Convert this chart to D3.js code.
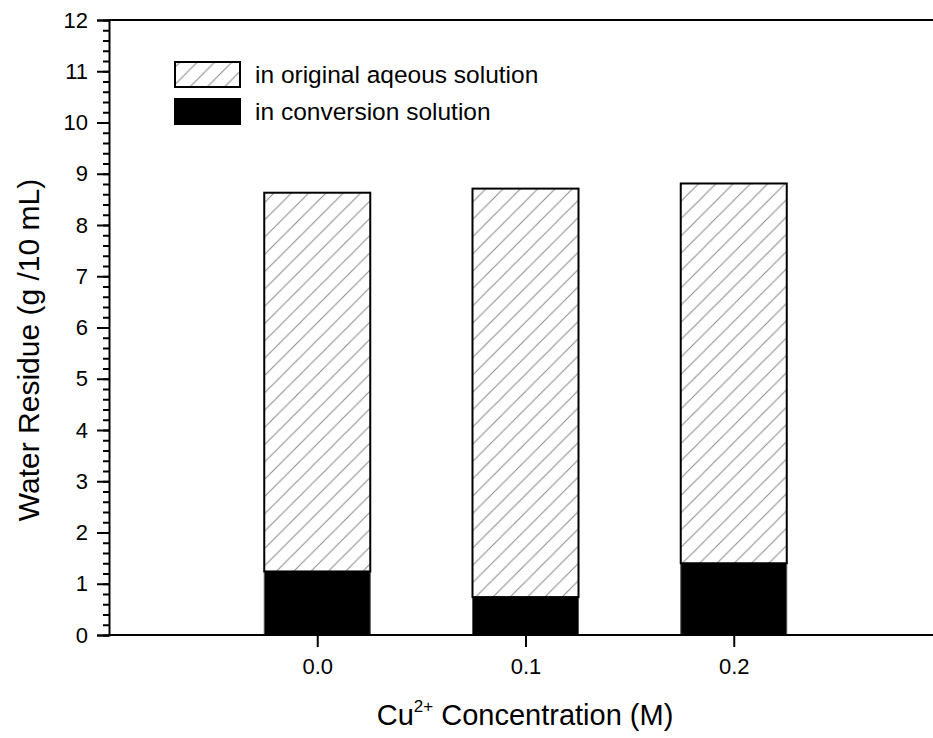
<!DOCTYPE html>
<html>
<head>
<meta charset="utf-8">
<script src="https://cdn.jsdelivr.net/npm/d3@7"></script>
<style>
  body { margin: 0; background: #fff; }
  svg { display: block; font-family: "Liberation Sans", Arial, sans-serif; }
</style>
</head>
<body>
<div id="chart"></div>
<script>
// Cu2+ concentration (M)
const concentrations = [0.0, 0.1, 0.2]
// water residue in conversion solution (black, bottom)
const conversionVals = [1.24, 0.74, 1.40]
// water residue in original aqueous solution (hatched, on top)
const originalVals = [7.39, 7.97, 7.41]
const xTickLabels = ["0.0", "0.1", "0.2"]
const yTicks = [0, 1, 2, 3, 4, 5, 6, 7, 8, 9, 10, 11, 12]
const legendLabels = ["in original aqeous solution", "in conversion solution"]

const width = 933
const height = 738
const margin = { left: 109, right: -9, top: 20, bottom: 103 }

const rows = concentrations.map((c, i) => ({ c, conv: conversionVals[i], orig: originalVals[i] }))
const stack = d3.stack().keys(["conv", "orig"])(rows)

const x = d3.scaleLinear().domain([-0.1, 0.3]).range([margin.left, width - margin.right])
const y = d3.scaleLinear().domain([0, 12]).range([height - margin.bottom, margin.top])
const barW = 106

const svg = d3.select("#chart").append("svg")
  .attr("width", width)
  .attr("height", height)

// hatch pattern
const defs = svg.append("defs")
const pat = defs.append("pattern")
  .attr("id", "hatch")
  .attr("patternUnits", "userSpaceOnUse")
  .attr("width", 17.3)
  .attr("height", 17.3)
pat.append("rect").attr("width", 17.3).attr("height", 17.3).attr("fill", "#fff")
pat.append("path")
  .attr("d", "M0,17.3 L17.3,0 M-4,4 L4,-4 M13.3,21.3 L21.3,13.3")
  .attr("stroke", "#8a8a8a")
  .attr("stroke-width", 1)

const fills = ["#000", "url(#hatch)"]
const strokes = ["#555", "#000"]

// bars
stack.forEach((layer, k) => {
  svg.append("g")
    .selectAll("rect")
    .data(layer)
    .join("rect")
    .attr("x", d => x(d.data.c) - barW / 2)
    .attr("width", barW)
    .attr("y", d => y(d[1]))
    .attr("height", d => y(d[0]) - y(d[1]))
    .attr("fill", fills[k])
    .attr("stroke", strokes[k])
    .attr("stroke-width", k === 1 ? 2 : 1)
})

// frame (top + right, right is outside the view)
svg.append("path")
  .attr("d", `M${x(-0.1)},${y(12)}H${x(0.3)}V${y(0)}`)
  .attr("fill", "none")
  .attr("stroke", "#000")
  .attr("stroke-width", 2)

// y axis, major and minor ticks
const yMinor = d3.range(0, 12.001, 0.2)
svg.append("g")
  .attr("transform", `translate(${margin.left},0)`)
  .call(d3.axisLeft(y).tickValues(yMinor).tickSize(6).tickFormat(""))
  .call(g => g.select(".domain").remove())
  .call(g => g.selectAll("line").attr("stroke-width", 2))
svg.append("g")
  .attr("transform", `translate(${margin.left},0)`)
  .call(d3.axisLeft(y).tickValues(yTicks).tickSize(12).tickPadding(9).tickFormat(d3.format("d")))
  .call(g => g.select(".domain").attr("stroke-width", 2))
  .call(g => g.selectAll("line").attr("stroke-width", 2))
  .call(g => g.selectAll("text").attr("font-size", 22).attr("fill", "#000").attr("font-family", "Liberation Sans, Arial, sans-serif"))

// x axis
svg.append("g")
  .attr("transform", `translate(0,${y(0)})`)
  .call(d3.axisBottom(x).tickValues(concentrations).tickSize(12).tickPadding(11).tickFormat((d, i) => xTickLabels[i]))
  .call(g => g.select(".domain").attr("stroke-width", 2).attr("d", `M${x(-0.1)},0H${x(0.3)}`))
  .call(g => g.selectAll("line").attr("stroke-width", 2))
  .call(g => g.selectAll("text").attr("font-size", 22).attr("fill", "#000").attr("font-family", "Liberation Sans, Arial, sans-serif"))

// axis titles
const xt = svg.append("text")
  .attr("x", 525)
  .attr("y", 725)
  .attr("text-anchor", "middle")
  .attr("font-size", 29)
xt.append("tspan").text("Cu")
xt.append("tspan").attr("font-size", 17).attr("dy", -13).text("2+")
xt.append("tspan").attr("dy", 13).text(" Concentration (M)")

svg.append("text")
  .attr("transform", `translate(39,350) rotate(-90)`)
  .attr("text-anchor", "middle")
  .attr("font-size", 30)
  .text("Water Residue (g /10 mL)")

// legend
const legend = svg.append("g")
const legendFills = ["url(#hatch)", "#000"]
legendLabels.forEach((lab, i) => {
  const ly = 62 + i * 37
  legend.append("rect")
    .attr("x", 175).attr("y", ly)
    .attr("width", 65).attr("height", 25)
    .attr("fill", legendFills[i])
    .attr("stroke", "#000")
    .attr("stroke-width", 2)
  legend.append("text")
    .attr("x", 255).attr("y", ly + 21)
    .attr("font-size", 24.5)
    .text(lab)
})
</script>
</body>
</html>
